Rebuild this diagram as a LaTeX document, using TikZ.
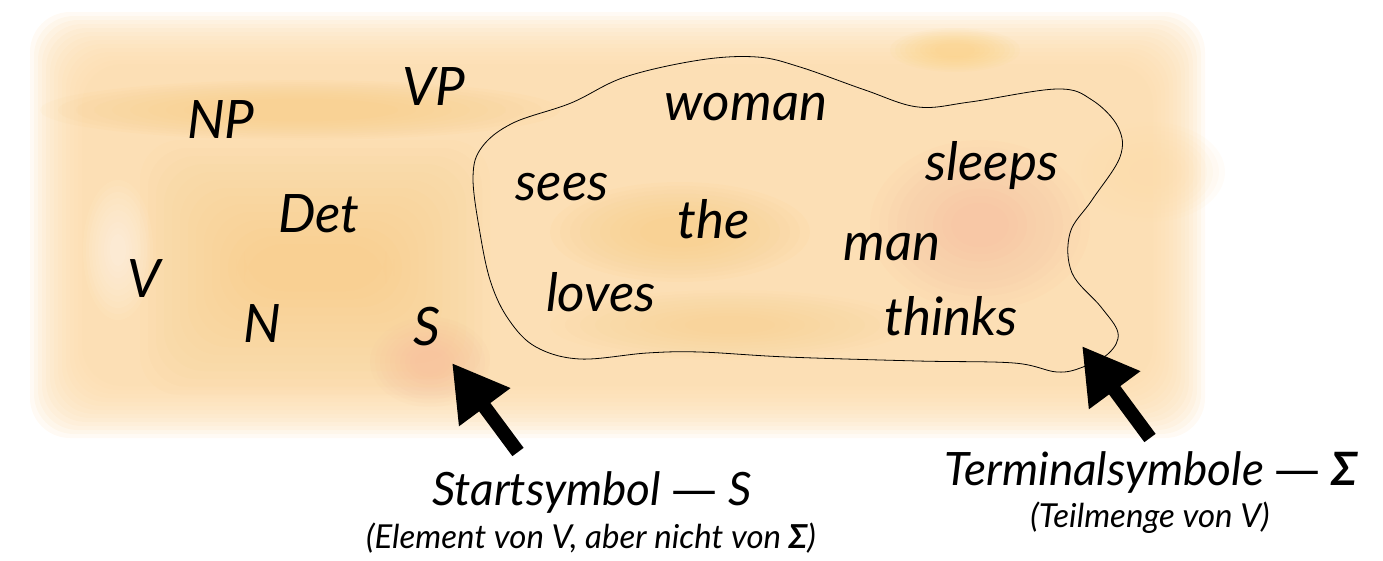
\documentclass[tikz,border=0pt]{standalone}
\usepackage{fontspec}
\setmainfont{Lato}
\newfontfamily\dashfont{DejaVu Sans}
\usetikzlibrary{arrows.meta}
\definecolor{peach}{RGB}{252,218,168}
\definecolor{orng}{RGB}{248,196,112}
\definecolor{pinkish}{RGB}{247,176,150}
\definecolor{yel}{RGB}{250,205,110}
% soft-edged rectangle: colour, opacity, x1, y1, x2, y2, step
\newcommand{\softbox}[7]{%
  \foreach \k in {0,...,13}{%
    \fill[#1,opacity=#2,rounded corners=40pt] (#3+\k*#7,#4+\k*#7) rectangle (#5-\k*#7,#6-\k*#7);}}
% soft-edged ellipse: colour, opacity, cx, cy, rx, ry, step
\newcommand{\softell}[7]{%
  \foreach \k in {0,...,9}{%
    \fill[#1,opacity=#2] (#3,#4) ellipse [x radius=#5-\k*#7, y radius=#6-\k*#7*#6/#5];}}
\newcommand{\emd}{{\dashfont\upshape —}}
\begin{document}
\begin{tikzpicture}[x=1pt,y=-1pt,
  lbl/.style={font=\fontsize{53}{60}\selectfont\itshape, anchor=base, inner sep=0pt},
  captxt/.style={font=\fontsize{46}{52}\selectfont\itshape, anchor=base, inner sep=0pt},
  subtxt/.style={font=\fontsize{33}{40}\selectfont\itshape, anchor=base, inner sep=0pt},
  bigarrow/.style={line width=14pt, -{Triangle[length=55pt,width=60pt]}},
  setline/.style={line width=0.8pt}]
\useasboundingbox (0,0) rectangle (1383,560);
% watercolour background
\softbox{peach}{0.13}{30}{12}{1205}{438}{4}
\softell{peach}{0.08}{1150}{172}{75}{50}{6}
\softell{orng}{0.05}{300}{110}{260}{30}{18}
\softbox{orng}{0.04}{140}{140}{490}{395}{8}
\softell{white}{0.06}{118}{250}{35}{70}{3}
\softell{orng}{0.05}{680}{232}{130}{50}{10}
\softell{pinkish}{0.05}{980}{225}{110}{85}{9}
\softell{pinkish}{0.05}{430}{362}{60}{45}{5}
\softell{orng}{0.04}{730}{325}{180}{35}{15}
\softell{yel}{0.06}{955}{50}{65}{22}{5}
% terminal set outline
\draw[setline] plot[smooth cycle, tension=0.6] coordinates {
 (700,60) (757,57) (800,67) (865,90) (918,107) (970,102) (1057,89) (1092,100)
 (1118,127) (1120,157) (1092,200) (1070,233) (1072,273) (1101,307) (1118,333)
 (1109,353) (1083,367) (1057,372) (1014,363) (918,361) (787,357) (700,352)
 (647,353) (580,359) (536,347) (509,320) (491,283) (480,233) (473,177)
 (482,147) (513,123) (571,103) (625,77)};
% symbols
\node[lbl] (np) at (221,138) {NP};
\node[lbl] (vp) at (434,105) {VP};
\node[lbl] (det) at (319,232) {Det};
\node[lbl] (v) at (144,297) {V};
\node[lbl] (n) at (262,342) {N};
\node[lbl] (s) at (427,345) {S};
\node[lbl] (sees) at (562,200) {sees};
\node[lbl] (the) at (714,238) {the};
\node[lbl] (loves) at (601,311) {loves};
\node[lbl] (woman) at (746,120) {woman};
\node[lbl] (sleeps) at (992,180) {sleeps};
\node[lbl] (man) at (892,260) {man};
\node[lbl] (thinks) at (951,335) {thinks};
% captions
\node[captxt] (start) at (592,505) {Startsymbol \emd{} S};
\node[subtxt] (startsub) at (591,548) {(Element von V, aber nicht von {\bfseries Σ})};
\node[captxt] (term) at (1151,485) {Terminalsymbole \emd{} {\bfseries Σ}};
\node[subtxt] (termsub) at (1150,527) {(Teilmenge von V)};
% arrows
\coordinate (a1tail) at (518,452);
\coordinate (a1tip) at (452,363);
\coordinate (a2tail) at (1150,438);
\coordinate (a2tip) at (1082,346);
\draw[bigarrow] (a1tail) -- (a1tip);
\draw[bigarrow] (a2tail) -- (a2tip);
\end{tikzpicture}
\end{document}
